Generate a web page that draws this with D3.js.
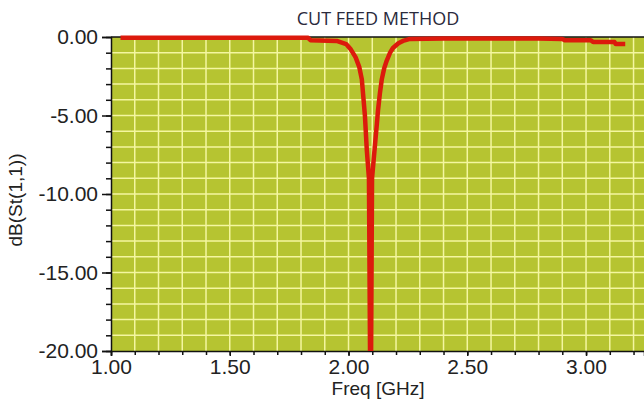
<!DOCTYPE html>
<html>
<head>
<meta charset="utf-8">
<script src="https://cdn.jsdelivr.net/npm/d3@7"></script>
<style>
    body { margin: 0; background: #fff; }
    text { font-family: "Liberation Sans", Arial, sans-serif; }
</style>
</head>
<body>
<svg id="chart" width="644" height="403"></svg>
<script>

const freq = [1.04, 1.50, 1.83, 1.84, 1.95, 1.99, 2.01, 2.03, 2.045, 2.056, 2.069, 2.077, 2.086,
    2.093, 2.099, 2.106, 2.113, 2.119, 2.124, 2.132, 2.140, 2.150, 2.161, 2.175, 2.187, 2.21,
    2.229, 2.259, 2.40, 2.60, 2.80, 2.90, 2.91, 3.02, 3.03, 3.12, 3.125, 3.165];

const s11 = [-0.05, -0.05, -0.05, -0.2, -0.25, -0.45, -0.8, -1.3, -1.9, -2.7, -5.0, -7.2, -9.0,
    -26, -9.0, -7.8, -6.6, -5.6, -4.7, -3.6, -2.7, -2.0, -1.5, -1.0, -0.7, -0.4,
    -0.25, -0.12, -0.1, -0.1, -0.1, -0.13, -0.2, -0.2, -0.32, -0.32, -0.45, -0.45];

const xTicks = [1.00, 1.50, 2.00, 2.50, 3.00];
const yTicks = [0, -5, -10, -15, -20];

const title = 'CUT FEED METHOD';
const xTitle = 'Freq [GHz]';
const yTitle = 'dB(St(1,1))';

const data = freq.map((f, i) => ({f: f, v: s11[i]}));

const pLeft = 111, pRight = 644, pTop = 37, pBottom = 351;

const xScale = d3.scaleLinear()
    .domain([1, 3.244])
    .range([pLeft, pRight]);

const yScale = d3.scaleLinear()
    .domain([-20, 0])
    .range([pBottom, pTop]);

const svg = d3.select('#chart');
// plain hyphen for negatives, like the original plot
const fmt = d => d3.format('.2f')(d).replace('\u2212', '-');

// plot background
svg.append('rect')
    .attr('x', pLeft)
    .attr('y', pTop)
    .attr('width', pRight - pLeft)
    .attr('height', pBottom - pTop)
    .style('fill', '#b6c431');

// grid every 0.1 GHz and 1 dB
const xGrid = d3.range(11, 33).map(d => d / 10);
const yGrid = d3.range(-19, 0);

svg.append('g')
    .selectAll('line')
    .data(xGrid)
    .enter().append('line')
    .attr('x1', d => xScale(d)).attr('x2', d => xScale(d))
    .attr('y1', pTop).attr('y2', pBottom)
    .style('stroke', '#f4f6a0')
    .style('stroke-width', 1.5);

svg.append('g')
    .selectAll('line')
    .data(yGrid)
    .enter().append('line')
    .attr('x1', pLeft).attr('x2', pRight)
    .attr('y1', d => yScale(d)).attr('y2', d => yScale(d))
    .style('stroke', '#f4f6a0')
    .style('stroke-width', 1.5);

// top frame
svg.append('line')
    .attr('x1', pLeft).attr('x2', pRight)
    .attr('y1', pTop).attr('y2', pTop)
    .style('stroke', '#111')
    .style('stroke-width', 1.5);

// axes: minor ticks first, then majors with labels
svg.append('g')
    .attr('transform', `translate(${pLeft},0)`)
    .call(d3.axisLeft(yScale).tickValues(d3.range(-20, 1)).tickSize(5).tickFormat(''))
    .call(g => g.select('.domain').remove());

svg.append('g')
    .attr('transform', `translate(${pLeft},0)`)
    .call(d3.axisLeft(yScale).tickValues(yTicks).tickSize(9).tickPadding(4).tickFormat(fmt))
    .call(g => g.selectAll('text').style('font-size', '21px').style('fill', '#222'));

svg.append('g')
    .attr('transform', `translate(0,${pBottom})`)
    .call(d3.axisBottom(xScale).tickValues(d3.range(10, 33).map(d => d / 10)).tickSize(4).tickFormat(''))
    .call(g => g.select('.domain').remove());

svg.append('g')
    .attr('transform', `translate(0,${pBottom})`)
    .call(d3.axisBottom(xScale).tickValues(xTicks).tickSize(5).tickPadding(3).tickFormat(fmt))
    .call(g => g.selectAll('text').style('font-size', '21px').style('fill', '#222'));

svg.selectAll('.domain').style('stroke', '#111').style('stroke-width', 1.5);
svg.selectAll('.tick line').style('stroke', '#111').style('stroke-width', 1.5);

// S11 trace
svg.append('clipPath')
    .attr('id', 'clip')
    .append('rect')
    .attr('x', pLeft).attr('y', pTop - 4)
    .attr('width', pRight - pLeft).attr('height', pBottom - pTop + 4);

const line = d3.line()
    .x(d => xScale(d.f))
    .y(d => yScale(d.v));

svg.append('path')
    .datum(data)
    .attr('clip-path', 'url(#clip)')
    .attr('d', line)
    .style('fill', 'none')
    .style('stroke', '#dc1a0c')
    .style('stroke-width', 4.5)
    .style('stroke-linejoin', 'round');

// titles
svg.append('text')
    .attr('x', 378).attr('y', 25)
    .attr('text-anchor', 'middle')
    .style('font-family', '"Open Sans", sans-serif')
    .style('font-size', '18px')
    .style('fill', '#2a2a3c')
    .text(title);

svg.append('text')
    .attr('x', 378).attr('y', 395)
    .attr('text-anchor', 'middle')
    .style('font-size', '19px')
    .style('fill', '#222')
    .text(xTitle);

svg.append('text')
    .attr('transform', 'translate(22,200) rotate(-90)')
    .attr('text-anchor', 'middle')
    .style('font-size', '19px')
    .style('fill', '#222')
    .text(yTitle);

</script>
</body>
</html>
